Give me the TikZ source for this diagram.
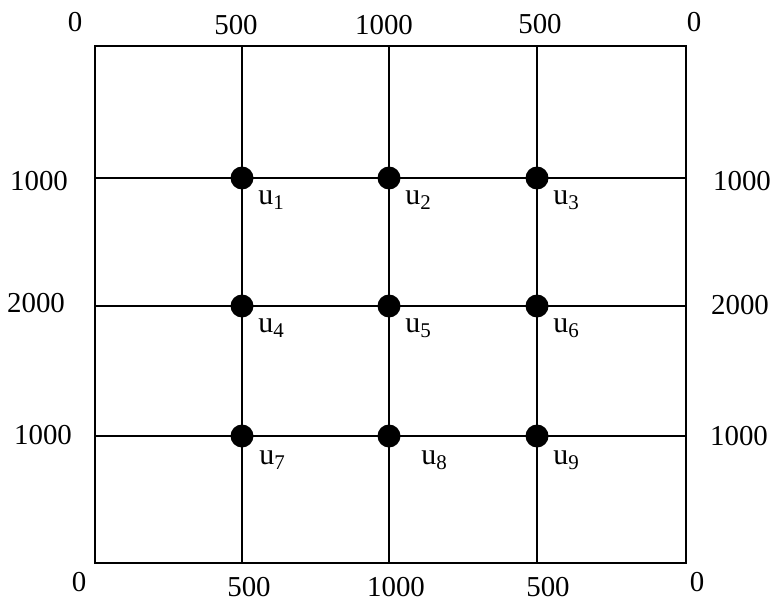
\documentclass[tikz,border=0pt]{standalone}
\usepackage{fontspec}
\setmainfont{Liberation Serif}
\usetikzlibrary{positioning}

\begin{document}
\begin{tikzpicture}[
x=1bp, y=-1bp,
node distance=4bp and 8bp,
grid/.style={line width=2.8bp},
dot/.style={circle, fill=black, inner sep=0pt, minimum size=23bp},
num/.style={font=\fontsize{29}{32}\selectfont, inner sep=0pt},
lbl/.style={font=\fontsize{30}{32}\selectfont, inner sep=0pt}
]
\useasboundingbox (0,0) rectangle (772,604);

% frame and grid
\coordinate (nw) at (95,46);
\coordinate (se) at (686,563);
\draw[grid] (nw) rectangle (se);
\coordinate (t1) at (242,46);  \coordinate (b1) at (242,563);
\coordinate (t2) at (389,46);  \coordinate (b2) at (389,563);
\coordinate (t3) at (537,46);  \coordinate (b3) at (537,563);
\coordinate (l1) at (95,178);  \coordinate (r1) at (686,178);
\coordinate (l2) at (95,306);  \coordinate (r2) at (686,306);
\coordinate (l3) at (95,436);  \coordinate (r3) at (686,436);
\draw[grid] (t1) -- (b1);
\draw[grid] (t2) -- (b2);
\draw[grid] (t3) -- (b3);
\draw[grid] (l1) -- (r1);
\draw[grid] (l2) -- (r2);
\draw[grid] (l3) -- (r3);

% nodes
\node[dot] (u1) at (242,178) {};
\node[dot] (u2) at (389,178) {};
\node[dot] (u3) at (537,178) {};
\node[dot] (u4) at (242,306) {};
\node[dot] (u5) at (389,306) {};
\node[dot] (u6) at (537,306) {};
\node[dot] (u7) at (242,436) {};
\node[dot] (u8) at (389,436) {};
\node[dot] (u9) at (537,436) {};

\node[lbl, below right=of u1] (lab1) {u\textsubscript{1}};
\node[lbl, below right=of u2] (lab2) {u\textsubscript{2}};
\node[lbl, below right=of u3] (lab3) {u\textsubscript{3}};
\node[lbl, below right=of u4] (lab4) {u\textsubscript{4}};
\node[lbl, below right=of u5] (lab5) {u\textsubscript{5}};
\node[lbl, below right=of u6] (lab6) {u\textsubscript{6}};
\node[lbl, below right=6bp and 9bp of u7] (lab7) {u\textsubscript{7}};
\node[lbl, below right=6bp and 24bp of u8] (lab8) {u\textsubscript{8}};
\node[lbl, below right=6bp and 8bp of u9] (lab9) {u\textsubscript{9}};

% capacities
\node[num] (top0) at (75,22) {0};
\node[num] (top1) at (236,25) {500};
\node[num] (top2) at (384,25) {1000};
\node[num] (top3) at (540,24) {500};
\node[num] (top4) at (694,22) {0};
\node[num] (bot0) at (79,582) {0};
\node[num] (bot1) at (249,587) {500};
\node[num] (bot2) at (396,587) {1000};
\node[num] (bot3) at (548,587) {500};
\node[num] (bot4) at (697,582) {0};
\node[num] (lef1) at (39,181) {1000};
\node[num] (lef2) at (36,303) {2000};
\node[num] (lef3) at (43,435) {1000};
\node[num] (rig1) at (742,181) {1000};
\node[num] (rig2) at (740,305) {2000};
\node[num] (rig3) at (739,436) {1000};
\end{tikzpicture}
\end{document}
